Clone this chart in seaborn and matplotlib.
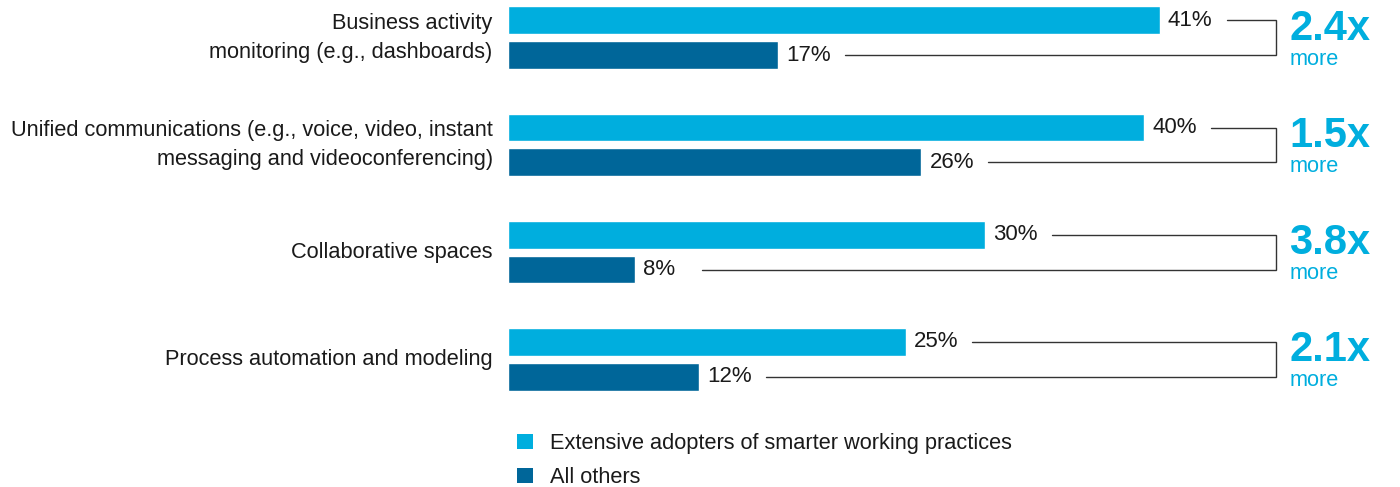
import matplotlib
matplotlib.use("Agg")
import matplotlib.pyplot as plt
from matplotlib.patches import Patch
import seaborn as sns
import pandas as pd

categories = [
    "Business activity\nmonitoring (e.g., dashboards)",
    "Unified communications (e.g., voice, video, instant\nmessaging and videoconferencing)",
    "Collaborative spaces",
    "Process automation and modeling",
]
series_names = ["Extensive adopters of smarter working practices", "All others"]
extensive = [41, 40, 30, 25]
others = [17, 26, 8, 12]
ratios = ["2.4x", "1.5x", "3.8x", "2.1x"]

LIGHT = "#00AEDE"
DARK = "#006699"
TEXT = "#1a1a1a"

df = pd.DataFrame({
    "category": categories * 2,
    "value": extensive + others,
    "group": [series_names[0]] * 4 + [series_names[1]] * 4,
})

sns.set_theme(style="white")
plt.rcParams["font.family"] = ["Liberation Sans", "DejaVu Sans"]

W, H = 1400, 487
FS = 15.7
fig = plt.figure(figsize=(14, 4.87), dpi=100)
ax_left = 508 / W
ax_width = (55 * 15.9) / W
ax_top_px, ax_bot_px = 0, 400
ax = fig.add_axes([ax_left, 1 - ax_bot_px / H, ax_width, (ax_bot_px - ax_top_px) / H])

sns.barplot(data=df, x="value", y="category", hue="group", orient="h",
            palette=[LIGHT, DARK], width=0.654, gap=0.2, dodge=True,
            legend=False, ax=ax, saturation=1)

ax.set_xlim(0, 55)
ax.set_ylim(3.383, -0.355)
for s in ax.spines.values():
    s.set_visible(False)
ax.set_xticks([])
ax.set_xlabel("")
ax.set_ylabel("")
ax.tick_params(axis="y", length=0, pad=11, labelsize=FS, labelcolor=TEXT)
for t in ax.get_yticklabels():
    t.set_linespacing(1.55)
    t.set_verticalalignment("center")

for cont in ax.containers:
    ax.bar_label(cont, labels=[f"{v:.0f}%" for v in cont.datavalues],
                 padding=5.8, fontsize=16, color=TEXT)

# bracket connectors and ratio annotations
off = 0.654 / 4
line_off = 4.2
bx = 48.3
for i, (e, o, r) in enumerate(zip(extensive, others, ratios)):
    y1, y2 = i - off, i + off
    ax.plot([e + line_off, bx, bx, o + line_off], [y1, y1, y2, y2],
            color="#333333", lw=1.0, clip_on=False, solid_joinstyle="miter")
    ax.text(bx + 0.85, i - 0.08, r, color=LIGHT, fontsize=30, fontweight="bold",
            ha="left", va="center", clip_on=False)
    ax.text(bx + 0.85, i + 0.2, "more", color=LIGHT, fontsize=FS,
            ha="left", va="center", clip_on=False)

handles = [Patch(facecolor=LIGHT, edgecolor="none"), Patch(facecolor=DARK, edgecolor="none")]
fig.legend(handles, series_names, loc="upper left",
           bbox_to_anchor=(517 / W, 1 - 433 / H), frameon=False,
           fontsize=FS, handlelength=0.73, handleheight=0.73,
           handletextpad=0.78, labelspacing=0.6, borderaxespad=0, borderpad=0,
           labelcolor=TEXT)

fig.savefig("out.png", dpi=100)
